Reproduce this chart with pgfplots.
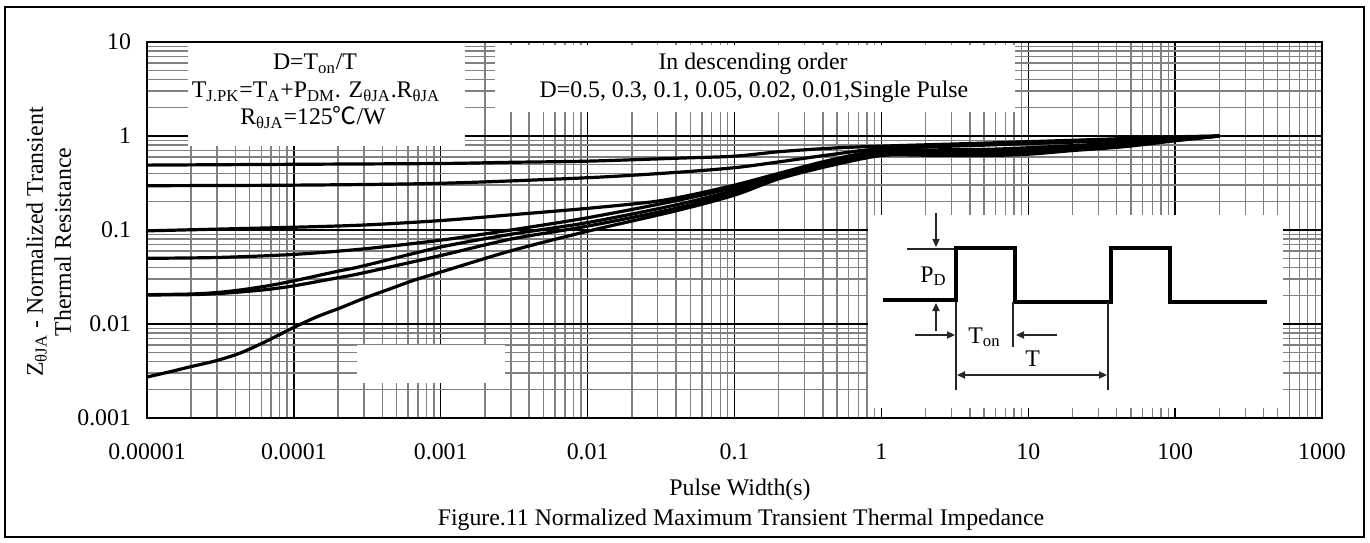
\documentclass[border=0pt]{standalone}
\usepackage{pgfplots}
\pgfplotsset{compat=1.18}
\usetikzlibrary{arrows.meta}
\usepackage{fontspec}
\setmainfont{Liberation Serif}
\newfontfamily\cjk{Noto Sans CJK SC}
\newcommand\f{\fontsize{11.9}{14.3}\selectfont}
\definecolor{minorgray}{RGB}{128,128,128}
\begin{document}
\begin{tikzpicture}[px/.style={shift={(-73.5pt,209pt)},x=0.5pt,y=-0.5pt},
  thinl/.style={line width=0.6pt,black!85}]
\begin{axis}[
  at={(0,0)}, anchor=south west,
  scale only axis, width=587.5pt, height=188pt,
  xmode=log, ymode=log,
  xmin=1e-5, xmax=1000, ymin=1e-3, ymax=10,
  xtick={1e-5,1e-4,1e-3,1e-2,1e-1,1,10,100,1000},
  xticklabels={\textrm{0.00001},\textrm{0.0001},\textrm{0.001},\textrm{0.01},\textrm{0.1},\textrm{1},\textrm{10},\textrm{100},\textrm{1000}},
  ytick={1e-3,1e-2,1e-1,1,10},
  yticklabels={\textrm{0.001},\textrm{0.01},\textrm{0.1},\textrm{1},\textrm{10}},
  minor xtick={2e-5,3e-5,4e-5,5e-5,6e-5,7e-5,8e-5,9e-5,
    2e-4,3e-4,4e-4,5e-4,6e-4,7e-4,8e-4,9e-4,
    2e-3,3e-3,4e-3,5e-3,6e-3,7e-3,8e-3,9e-3,
    0.02,0.03,0.04,0.05,0.06,0.07,0.08,0.09,
    0.2,0.3,0.4,0.5,0.6,0.7,0.8,0.9,
    2,3,4,5,6,7,8,9,20,30,40,50,60,70,80,90,
    200,300,400,500,600,700,800,900},
  minor ytick={0.002,0.003,0.004,0.005,0.006,0.007,0.008,0.009,
    0.02,0.03,0.04,0.05,0.06,0.07,0.08,0.09,
    0.2,0.3,0.4,0.5,0.6,0.7,0.8,0.9,2,3,4,5,6,7,8,9},
  grid=both,
  major grid style={black, line width=0.75pt},
  minor grid style={minorgray, line width=0.7pt},
  major tick length=0pt, minor tick length=0pt,
  axis line style={line width=1pt},
  tick label style={font=\f},
  xticklabel style={yshift=-9.5pt},
  yticklabel style={xshift=-4.5pt},
]
% D = 0.5
\addplot[black, line width=1.6pt, smooth, tension=0.5] coordinates {
(1e-5,0.49)(1e-4,0.50)(1e-3,0.51)(3e-3,0.525)(1e-2,0.54)(4e-2,0.58)(1e-1,0.61)(2e-1,0.68)(4.4e-1,0.74)(1,0.78)(5,0.84)(10,0.87)(20,0.9)(45,0.94)(100,0.98)(200,1.0)};
% D = 0.3
\addplot[black, line width=1.6pt, smooth, tension=0.5] coordinates {
(1e-5,0.296)(1e-4,0.30)(1e-3,0.314)(1e-2,0.36)(4e-2,0.41)(1e-1,0.46)(2e-1,0.53)(4.4e-1,0.63)(1,0.73)(5,0.80)(10,0.83)(20,0.86)(45,0.9)(100,0.96)(200,1.0)};
% D = 0.1
\addplot[black, line width=1.6pt, smooth, tension=0.5] coordinates {
(1e-5,0.098)(1e-4,0.107)(3e-4,0.113)(1e-3,0.126)(3e-3,0.145)(1e-2,0.17)(2.8e-2,0.20)(5e-2,0.235)(1e-1,0.30)(2e-1,0.40)(4.4e-1,0.55)(1,0.69)(5,0.72)(10,0.75)(20,0.79)(45,0.85)(100,0.93)(200,1.0)};
% D = 0.05
\addplot[black, line width=1.6pt, smooth, tension=0.5] coordinates {
(1e-5,0.050)(3e-5,0.051)(1e-4,0.055)(3e-4,0.063)(1e-3,0.078)(3e-3,0.10)(1e-2,0.135)(4e-2,0.205)(1e-1,0.285)(2e-1,0.39)(4.4e-1,0.53)(1,0.67)(5,0.69)(10,0.71)(20,0.76)(45,0.82)(100,0.92)(200,1.0)};
% D = 0.02
\addplot[black, line width=1.6pt, smooth, tension=0.5] coordinates {
(1e-5,0.0205)(2e-5,0.02085)(3e-5,0.02163)(4.3e-5,0.0230)(6.55e-5,0.02538)(9.84e-5,0.02865)(1.96e-4,0.03622)(2.95e-4,0.0414)(1e-3,0.0659)(3e-3,0.09)(1e-2,0.12)(4e-2,0.185)(1e-1,0.265)(2e-1,0.37)(4.4e-1,0.51)(1,0.65)(5,0.66)(10,0.68)(20,0.74)(45,0.8)(100,0.91)(200,1.0)};
% D = 0.01
\addplot[black, line width=1.6pt, smooth, tension=0.5] coordinates {
(1e-5,0.02036)(2e-5,0.02054)(3e-5,0.02105)(4.3e-5,0.0219)(6.55e-5,0.02328)(9.84e-5,0.02538)(1.96e-4,0.03086)(2.95e-4,0.0349)(1e-3,0.0535)(3e-3,0.08)(1e-2,0.11)(4e-2,0.17)(1e-1,0.25)(2e-1,0.36)(4.4e-1,0.50)(1,0.64)(5,0.64)(10,0.66)(20,0.72)(45,0.79)(100,0.90)(200,1.0)};
% Single pulse
\addplot[black, line width=1.6pt, smooth, tension=0.5] coordinates {
(1e-5,0.00273)(1.43e-5,0.0031)(1.96e-5,0.0035)(2.9e-5,0.00404)(4.3e-5,0.0049)(6.55e-5,0.0066)(1e-4,0.0092)(1.43e-4,0.0119)(2.06e-4,0.0148)(3.04e-4,0.0189)(4.5e-4,0.0236)(6.65e-4,0.0294)(1e-3,0.0357)(3e-3,0.06)(1e-2,0.097)(4e-2,0.16)(1e-1,0.235)(2e-1,0.35)(4.4e-1,0.48)(1,0.62)(2,0.625)(5,0.62)(10,0.64)(20,0.70)(45,0.77)(100,0.89)(200,1.0)};
\end{axis}
\begin{scope}[px, font=\f]
% white boxes over the grid
\fill[white] (188,43.5) rectangle (465,145.5);
\fill[white] (495,45.5) rectangle (1015,112);
\fill[white] (357,345) rectangle (505,383);
\fill[white] (868,215) rectangle (1283,408);
% outer frame
\draw[line width=1pt] (5,7) rectangle (1364,537);
% annotations
\node[anchor=base, inner sep=0pt] at (315,70) {D=T\textsubscript{on}/T};
\node[anchor=base, inner sep=0pt] at (316,97.5) {T\textsubscript{J.PK}=T\textsubscript{A}+P\textsubscript{DM}. Z\textsubscript{θJA}.R\textsubscript{θJA}};
\node[anchor=base, inner sep=0pt] at (313,124.5) {R\textsubscript{θJA}=125{\cjk ℃}/W};
\node[anchor=base] at (753,70) {In descending order};
\node[anchor=base] at (754,97) {D=0.5, 0.3, 0.1, 0.05, 0.02, 0.01,Single Pulse};
\node[anchor=base] at (740,495) {Pulse Width(s)};
\node[anchor=base] at (741,525) {Figure.11 Normalized Maximum Transient Thermal Impedance};
\node[anchor=base,rotate=90] at (43,242) {Z\textsubscript{θJA} - Normalized Transient};
\node[anchor=base,rotate=90] at (71,242) {Thermal Resistance};
% inset pulse diagram
\draw[line width=2.2pt, line join=miter] (883,300) -- (956,300) -- (956,248) -- (1015,248) -- (1015,302) -- (1111,302) -- (1111,248) -- (1170,248) -- (1170,302) -- (1267,302);
\draw[thinl] (907,249) -- (954,249);
\draw[thinl,-{Triangle[length=4pt,width=3.6pt]}] (936,213) -- (936,247);
\draw[thinl,-{Triangle[length=4pt,width=3.6pt]}] (936,331) -- (936,303);
\draw[thinl,-{Triangle[length=4pt,width=3.6pt]}] (915,335) -- (955,335);
\draw[thinl,-{Triangle[length=4pt,width=3.6pt]}] (1057,335) -- (1016,335);
\draw[thinl] (956,302) -- (956,390);
\draw[thinl] (1013,302) -- (1013,347);
\draw[thinl] (1108,302) -- (1108,390);
\draw[thinl,{Triangle[length=4pt,width=3.6pt]}-{Triangle[length=4pt,width=3.6pt]}] (957,375) -- (1107,375);
\node[anchor=base west, inner sep=0] at (920,282) {P\textsubscript{D}};
\node[anchor=base west, inner sep=0] at (968,343) {T\textsubscript{on}};
\node[anchor=base west, inner sep=0] at (1025,366) {T};
\end{scope}
\pgfresetboundingbox
\path[px] (0,0) rectangle (1370,542);
\end{tikzpicture}
\end{document}
